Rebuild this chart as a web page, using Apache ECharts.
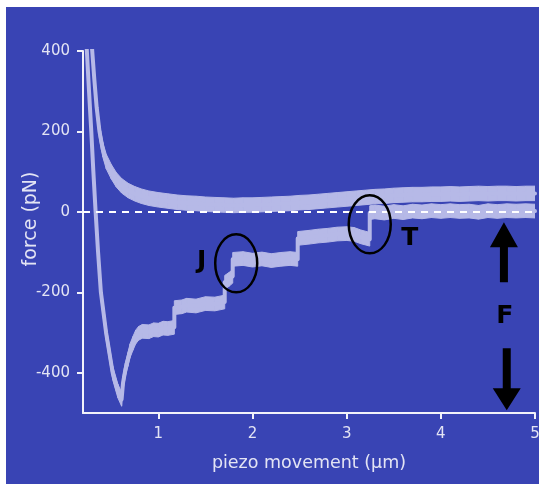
<!DOCTYPE html>
<html>
<head>
<meta charset="utf-8">
<script src="https://cdn.jsdelivr.net/npm/echarts@6/dist/echarts.min.js"></script>
<style>
  html, body { margin: 0; padding: 0; background: #fff; }
  #chart { position: absolute; left: 6px; top: 7px; width: 533px; height: 477px; }
</style>
</head>
<body>
<div id="chart"></div>
<script>
// axis ticks
var xTicks = [1, 2, 3, 4, 5];
var yTicks = [-400, -200, 0, 200, 400];

// approach trace (upper)
var approachTrace = [[0.29, 430], [0.298, 400], [0.32, 330], [0.345, 260], [0.375, 200], [0.41, 155], [0.447, 125], [0.50, 100],
  [0.553, 80], [0.61, 65], [0.68, 53], [0.75, 45], [0.82, 39], [0.9, 34], [1.0, 30], [1.1, 27], [1.2, 24], [1.3, 22],
  [1.4, 21], [1.5, 19], [1.6, 18], [1.7, 17], [1.8, 16], [1.9, 17], [2.0, 17], [2.1, 18], [2.2, 19], [2.3, 20],
  [2.4, 21], [2.5, 23], [2.6, 24], [2.7, 26], [2.8, 28], [2.9, 30], [3.0, 32], [3.1, 34], [3.2, 36], [3.3, 38],
  [3.4, 39], [3.5, 41], [3.6, 42], [3.7, 43], [3.8, 43], [3.9, 44], [4.0, 44], [4.1, 45], [4.2, 44], [4.3, 45],
  [4.4, 46], [4.5, 45], [4.6, 46], [4.7, 46], [4.8, 45], [4.9, 46], [5.0, 46]];

// retraction trace (lower), with the unbinding steps
var retractTrace = [[0.235, 430], [0.241, 400], [0.264, 300], [0.288, 200], [0.31, 100], [0.334, 0], [0.36, -100], [0.39, -200],
  [0.445, -300], [0.515, -400], [0.57, -445], [0.61, -466], [0.625, -425], [0.65, -392], [0.677, -367], [0.70, -345],
  [0.73, -327], [0.76, -311], [0.79, -302], [0.83, -297], [0.9, -298], [0.95, -293], [1.0, -294], [1.05, -289],
  [1.1, -290], [1.17, -287],
  [1.17, -238], [1.25, -236], [1.3, -232], [1.4, -234], [1.5, -228], [1.6, -229], [1.705, -224],
  [1.705, -175], [1.75, -168], [1.79, -160],
  [1.79, -118], [1.9, -116], [2.0, -120], [2.1, -117], [2.2, -121], [2.3, -118], [2.4, -116], [2.48, -118],
  [2.48, -66], [2.6, -63], [2.7, -60], [2.8, -58], [2.9, -55], [3.0, -54], [3.08, -56], [3.15, -62], [3.245, -68],
  [3.245, -2], [3.3, 0], [3.4, -3], [3.5, 1], [3.6, -2], [3.7, 2], [3.8, 0], [3.9, 3], [4.0, 1], [4.1, 3],
  [4.2, 1], [4.3, 2], [4.4, -1], [4.5, 3], [4.6, 1], [4.7, 3], [4.8, 2], [4.9, 3], [5.0, 2]];

var zeroLine = [[0.2, 0], [5, 0]];

// annotations, in data units
var labelJ = [1.46, -123], ringJ = [1.827, -128];
var labelT = [3.67, -66], ringT = [3.245, -31];
var labelF = [4.68, -260];
var arrowUp = [[4.67, -26], [4.67, -175]];
var arrowDown = [[4.70, -493], [4.70, -339]];

var traceColor = '#b6b9e7';
var textColor = '#e3e4f4';
var axisColor = '#f2f2fa';

// thin core line of a trace
function traceLine(data, width) {
  return {
    type: 'line',
    data: data,
    symbol: 'none',
    silent: true,
    lineStyle: { color: traceColor, width: width, cap: 'round', join: 'round' }
  };
}

// noisy band around a trace: vertical thickness of +-half pN
function traceBand(data, half) {
  var segs = [];
  for (var i = 0; i < data.length - 1; i++) {
    segs.push([data[i][0], data[i][1], data[i + 1][0], data[i + 1][1]]);
  }
  return {
    type: 'custom',
    data: segs,
    clip: true,
    silent: true,
    encode: { x: [0, 2], y: [1, 3] },
    renderItem: function (params, api) {
      var x0 = api.value(0), y0 = api.value(1), x1 = api.value(2), y1 = api.value(3);
      if (x0 === x1) return { type: 'group', children: [] };
      return {
        type: 'polygon',
        shape: { points: [api.coord([x0, y0 + half]), api.coord([x1, y1 + half]), api.coord([x1, y1 - half]), api.coord([x0, y0 - half])] },
        style: { fill: traceColor, stroke: traceColor, lineWidth: 1 }
      };
    }
  };
}

var myChart = echarts.init(document.getElementById('chart'));
myChart.setOption({
  backgroundColor: '#3944b4',
  animation: false,
  grid: { left: 77, right: 4, top: 44, bottom: 71, containLabel: false, outerBoundsMode: 'none' },
  xAxis: {
    type: 'value',
    min: 0.2,
    max: 5,
    name: 'piezo movement (\u03bcm)',
    nameLocation: 'middle',
    nameGap: 41,
    nameMoveOverlap: false,
    nameTextStyle: { color: textColor, fontSize: 17.5, fontFamily: 'DejaVu Sans' },
    axisLine: { onZero: false, lineStyle: { color: axisColor, width: 2 } },
    axisTick: { customValues: xTicks, length: 6, lineStyle: { color: axisColor, width: 2 } },
    axisLabel: { customValues: xTicks, color: textColor, fontSize: 15, fontFamily: 'DejaVu Sans', margin: 14 },
    splitLine: { show: false }
  },
  yAxis: {
    type: 'value',
    min: -500,
    max: 400,
    name: 'force (pN)',
    nameLocation: 'middle',
    nameGap: 42,
    nameMoveOverlap: false,
    nameTextStyle: { color: textColor, fontSize: 19, fontFamily: 'DejaVu Sans', padding: [0, 0, 0, 26] },
    axisLine: { show: true, onZero: false, lineStyle: { color: axisColor, width: 2 } },
    axisTick: { show: true, customValues: yTicks, length: 6, lineStyle: { color: axisColor, width: 2 } },
    axisLabel: { customValues: yTicks, color: textColor, fontSize: 15, fontFamily: 'DejaVu Sans', margin: 13 },
    splitLine: { show: false }
  },
  series: [
    traceBand(approachTrace, 18),
    traceLine(approachTrace, 4),
    traceBand(retractTrace, 17),
    traceLine(retractTrace, 4),
    {
      type: 'line',
      data: zeroLine,
      symbol: 'none',
      silent: true,
      z: 5,
      lineStyle: { color: '#ffffff', width: 2, type: [7, 6] }
    }
  ]
});

function px(p) { return myChart.convertToPixel({ gridIndex: 0 }, p); }

function arrow(tip, tail, headLen, headHalf, shaftHalf) {
  var a = px(tip), b = px(tail);
  var dir = a[1] < b[1] ? 1 : -1; // 1: pointing up
  var baseY = a[1] + dir * headLen;
  return {
    type: 'polygon',
    shape: {
      points: [
        [a[0], a[1]],
        [a[0] + headHalf, baseY],
        [a[0] + shaftHalf, baseY],
        [a[0] + shaftHalf, b[1]],
        [a[0] - shaftHalf, b[1]],
        [a[0] - shaftHalf, baseY],
        [a[0] - headHalf, baseY]
      ]
    },
    style: { fill: '#000' },
    z: 10
  };
}

function label(text, p) {
  var c = px(p);
  return {
    type: 'text', x: c[0], y: c[1], z: 10,
    style: { text: text, fill: '#000', font: 'bold 25px "DejaVu Sans"', align: 'center', verticalAlign: 'middle' }
  };
}

function ring(p, rx, ry) {
  var c = px(p);
  return {
    type: 'ellipse', z: 10,
    shape: { cx: c[0], cy: c[1], rx: rx, ry: ry },
    style: { fill: 'none', stroke: '#000', lineWidth: 2.5 }
  };
}

myChart.setOption({
  graphic: [
    ring(ringJ, 21, 29),
    ring(ringT, 21, 29),
    label('J', labelJ),
    label('T', labelT),
    label('F', labelF),
    arrow(arrowUp[0], arrowUp[1], 25, 14, 4),
    arrow(arrowDown[0], arrowDown[1], 22, 14, 4)
  ]
});
</script>
</body>
</html>
